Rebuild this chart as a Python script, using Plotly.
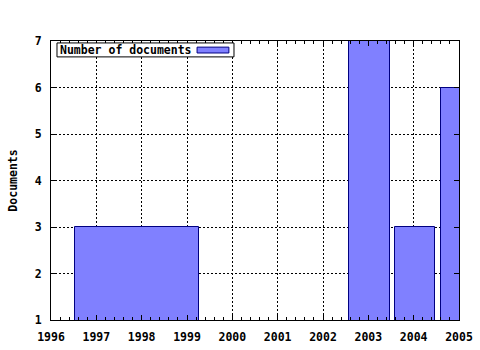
import plotly.graph_objects as go

# Data
years = [1997.9, 2003.03, 2004.03, 2005.05]
counts = [3, 7, 3, 6]
widths = [2.73, 0.9, 0.9, 0.9]
x_ticks = list(range(1996, 2006))
y_ticks = list(range(1, 8))
series_name = "Number of documents"

bold = dict(family="DejaVu Sans Mono", size=11.5, color="black", weight="bold")

fig = go.Figure()
fig.add_trace(go.Bar(
    x=years, y=counts, width=widths, base=0, name=series_name,
    marker=dict(color="#8080ff", line=dict(color="#000080", width=1)),
    showlegend=False,
))

axis_common = dict(
    showline=True, linecolor="black", linewidth=1, mirror="ticks",
    ticks="inside", ticklen=5, tickcolor="black",
    showgrid=True, gridcolor="black", gridwidth=1, griddash="2px,2px",
    zeroline=False, tickfont=bold, automargin=False,
)

fig.update_layout(
    width=480, height=350,
    margin=dict(l=51, r=21, t=41, b=30),
    paper_bgcolor="white", plot_bgcolor="white",
    font=bold,
    bargap=0,
    xaxis=dict(range=[1996, 2005], tickvals=x_ticks, ticktext=[str(v) for v in x_ticks],
               ticklabelstandoff=6,
               minor=dict(dtick=0.2, ticks="inside", ticklen=3, tickcolor="black", showgrid=False),
               **axis_common),
    yaxis=dict(range=[1, 7], tickvals=y_ticks, ticklabelstandoff=6,
               title=dict(text="Documents", standoff=14, font=bold),
               **axis_common),
)

# Legend box (gnuplot-style, sample on the right)
fig.add_shape(type="rect", xref="paper", yref="paper",
              x0=0.0147, x1=0.4485, y0=0.943, y1=0.993,
              fillcolor="white", line=dict(color="black", width=1), layer="above")
fig.add_shape(type="rect", xref="paper", yref="paper",
              x0=0.358, x1=0.436, y0=0.957, y1=0.978,
              fillcolor="#8080ff", line=dict(color="#000080", width=1), layer="above")
fig.add_annotation(
    xref="paper", yref="paper", x=0.017, y=0.968, xanchor="left", yanchor="middle",
    text=series_name, showarrow=False, font=bold,
)

fig.write_html("out.html")
